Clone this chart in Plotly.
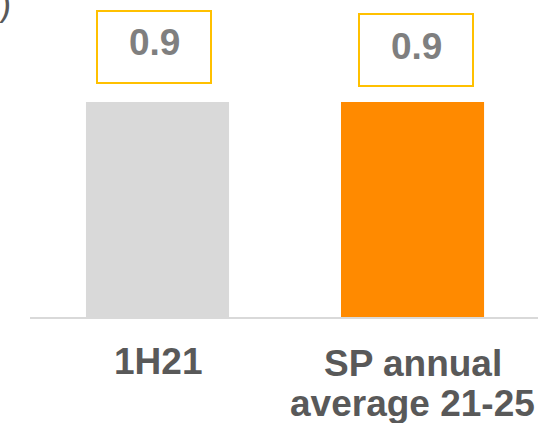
import plotly.graph_objects as go

categories = ['1H21', 'SP annual<br>average 21-25']
values = [0.9, 0.9]
value_labels = ['0.9', '0.9']
box_levels = [1.132, 1.116]
bar_colors = ['#d9d9d9', '#ff8a00']

FONT = 'Liberation Sans, Arial, sans-serif'
BOX_XSHIFT = [-3.5, 3.5]
LABEL_TOPS = [30, 32]  # px below the axis line, first line of each label
LINE_STEP = 40

fig = go.Figure(
    go.Bar(
        x=categories,
        y=values,
        marker=dict(color=bar_colors, line=dict(width=0)),
        width=0.561,
        hoverinfo='skip',
    )
)

# value boxes above the bars (frame and number drawn separately so the
# number can sit a little above the middle of the frame, as in the original)
for cat, lvl, txt, dx in zip(categories, box_levels, value_labels, BOX_XSHIFT):
    fig.add_annotation(
        x=cat, y=lvl, xref='x', yref='y', xshift=dx,
        text=' ', showarrow=False,
        width=112, height=70,
        bordercolor='#ffc000', borderwidth=2, borderpad=0,
        bgcolor='white',
    )
    fig.add_annotation(
        x=cat, y=lvl, xref='x', yref='y', xshift=dx, yshift=4,
        text=txt, showarrow=False,
        font=dict(family=FONT, size=37, color='#7f7f7f', weight='bold'),
    )

# category labels, one annotation per line so the line spacing stays tight
for cat, top in zip(categories, LABEL_TOPS):
    for i, line in enumerate(cat.split('<br>')):
        fig.add_annotation(
            x=cat, y=0, xref='x', yref='paper',
            xanchor='center', yanchor='top',
            text=line, showarrow=False,
            yshift=-(top + i * LINE_STEP) + 8,
            font=dict(family=FONT, size=37, color='#595959', weight='bold'),
        )

# fragment of the unit label cut off at the top-left corner
fig.add_annotation(
    x=0, y=1.0, xref='paper', yref='paper', xanchor='right', yanchor='top',
    text=')', showarrow=False, xshift=-17, yshift=20,
    font=dict(family=FONT, size=37, color='#595959'),
)

fig.update_layout(
    width=538,
    height=423,
    margin=dict(l=30, r=0, t=0, b=106),
    plot_bgcolor='white',
    paper_bgcolor='white',
    showlegend=False,
    xaxis=dict(
        type='category',
        range=[-0.5, 1.492],
        showline=True,
        linecolor='#d9d9d9',
        linewidth=2,
        showgrid=False,
        ticks='',
        showticklabels=False,
        automargin=False,
    ),
    yaxis=dict(
        range=[0, 1.327],
        visible=False,
        showgrid=False,
        zeroline=False,
        automargin=False,
    ),
)

# the page body has a default 8px margin; drop it so the figure fills the window
fig.write_html(
    'out.html',
    config={'displayModeBar': False},
    post_script="document.body.style.margin = '0';",
)
